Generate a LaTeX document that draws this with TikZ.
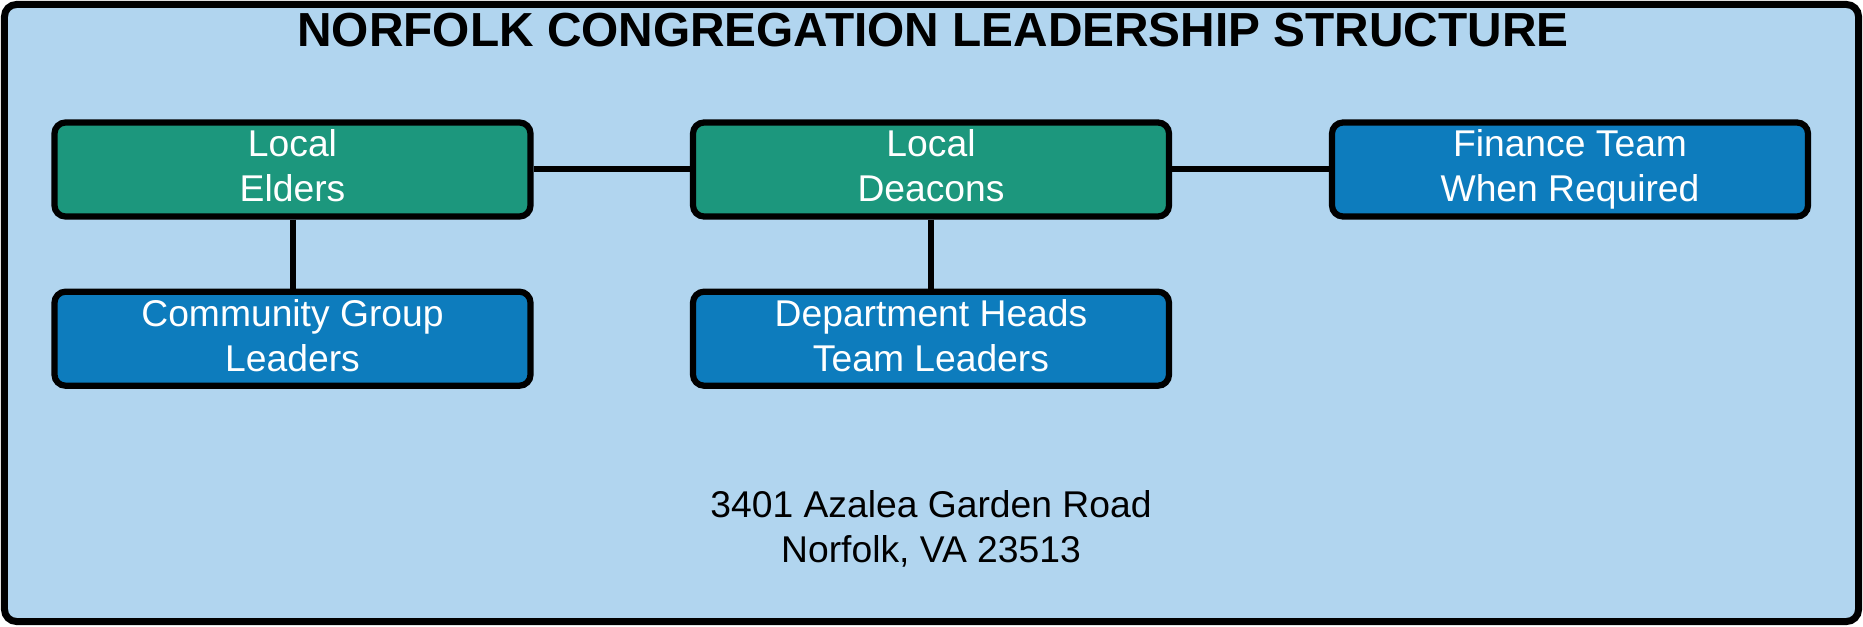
\documentclass[tikz,border=0pt]{standalone}
\usepackage{fontspec}
\setmainfont{Liberation Sans}
\usetikzlibrary{positioning}
\definecolor{framebg}{HTML}{B1D5EF}
\definecolor{leadgreen}{HTML}{1C977D}
\definecolor{teamblue}{HTML}{0D7CBD}

\begin{document}
\begin{tikzpicture}[
    role/.style={draw, line width=0.62mm, rounded corners=1.1mm, minimum width=4.76cm, minimum height=0.94cm, align=center, text=white, font=\fontsize{10.6}{12.8}\selectfont, inner sep=0pt, text depth=0.2em},
    link/.style={line width=0.6mm}
  ]
            \useasboundingbox (0,0) rectangle (18.63,6.26);
            \draw[fill=framebg, line width=0.7mm, rounded corners=1.2mm] (0.045,0.045) rectangle (18.585,6.215);
            
            \node[font=\bfseries\fontsize{13.6}{16}\selectfont] (title) at (9.33,5.96) {NORFOLK CONGREGATION LEADERSHIP STRUCTURE};
            
            \node[role, fill=leadgreen] (elders) at (2.925,4.565) {Local\\Elders};
            \node[role, fill=leadgreen] (deacons) at (9.31,4.565) {Local\\Deacons};
            \node[role, fill=teamblue] (finance) at (15.70,4.565) {Finance Team\\When Required};
            
            \node[role, fill=teamblue, below=0.69cm of elders] (community) {Community Group\\Leaders};
            \node[role, fill=teamblue, below=0.69cm of deacons] (depts) {Department Heads\\Team Leaders};
            
            \draw[link] (elders) -- (deacons);
            \draw[link] (deacons) -- (finance);
            \draw[link] (elders) -- (community);
            \draw[link] (deacons) -- (depts);
            
            \node[align=center, font=\fontsize{10.6}{12.8}\selectfont] (address) at (9.31,0.97) {3401 Azalea Garden Road\\Norfolk, VA 23513};
        \end{tikzpicture}
\end{document}
